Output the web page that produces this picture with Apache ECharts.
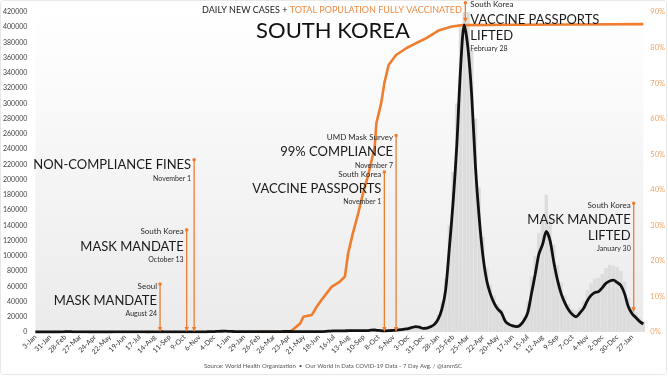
<!DOCTYPE html>
<html><head><meta charset="utf-8">
<script src="https://cdn.jsdelivr.net/npm/echarts@6/dist/echarts.min.js"></script>
<style>html,body{margin:0;padding:0;background:#fff}#c{width:668px;height:376px}</style>
</head><body><div id="c"></div>
<script>
// ---------------- DATA ----------------
const START_DATE = '2020-01-03';           // first weekly point
// 7-day average of daily new cases, one value per week
const cases2020 = [0,0,0,0,2,3,2,60,480,600,250,110,100,90,40,15,10,8,10,20,20,40,45,40,45,45,55,40,40,45,30,35,120,280,330,190,130,110,75,70,65,75,95,100,120,170,300,450,550,800,1000,1050];
const cases2021 = [850,680,520,430,420,380,390,480,390,410,440,440,450,520,620,650,660,620,560,620,590,570,620,560,530,620,800,1200,1450,1550,1500,1600,1700,1900,1700,1800,1900,1900,2400,2600,2000,1600,1500,1800,2200,2400,3000,3800,4500,6000,7000,6300,4800];
const cases2022 = [5000,7000,10000,17000,30000,55000,110000,170000,245000,345000,403000,372000,310000,217000,150000,100000,68000,50000,38000,30000,25000,14000,10000,8000,7000,9000,15000,25000,50000,75000,102000,115000,132000,120000,92000,68000,50000,38000,29000,23000,20000,25000,31000,41000,48000,52000,53000,58000,64000,67000,68000,65000,61000,50000,33000,24000,19000,14000,10500];
// daily new cases (weekly peak day), grey bars
const daily2020 = [0,0,0,0,4,5,3,190,800,700,350,150,140,120,60,25,15,12,30,30,40,60,55,50,60,60,65,60,55,60,45,55,200,440,440,270,180,130,110,100,90,100,130,140,180,250,380,580,680,1000,1100,1240];
const daily2021 = [1020,840,620,560,560,500,600,620,460,490,520,510,550,670,730,780,800,720,720,700,710,720,750,700,650,800,1300,1600,1800,1900,1800,2200,2200,2200,2000,2100,2100,2400,3200,2900,2500,2100,2000,2600,3000,3300,4100,5300,7100,7800,7800,6900,5400];
const daily2022 = [7500,9000,14000,23000,39000,70000,140000,210000,300000,400000,420000,420000,370000,280000,190000,125000,85000,62000,48000,37000,30000,18000,13000,10500,10000,12000,20000,40000,73000,100000,130000,150000,180000,150000,115000,88000,65000,48000,37000,30000,28000,33000,41000,55000,64000,70000,71000,76000,84000,88000,87000,85000,80000,66000,45000,33000,26000,19000,14000];
// total population fully vaccinated (%)
const vaxDates = ['2021-02-22','2021-04-25','2021-05-14','2021-05-20','2021-06-05','2021-06-14','2021-06-23','2021-07-12','2021-07-27','2021-08-06','2021-08-12','2021-08-21','2021-08-31','2021-09-09','2021-09-18','2021-10-01','2021-10-04','2021-10-13','2021-10-19','2021-10-27','2021-11-10','2021-11-29','2021-12-17','2022-01-05','2022-01-30','2022-02-23','2022-03-14','2022-06-22','2022-09-30','2023-02-17'];
const vaxPct = [0,0,2.4,4.3,4.8,7.1,9.0,12.7,14.1,15.6,22.1,27.8,33.4,39.0,43.7,52.1,58.7,64.3,70.0,75.1,77.9,79.8,81.2,82.6,84.9,85.9,86.3,86.4,86.5,86.6];
// annotations
const annDates = ['2020-08-24','2020-10-13','2020-10-27','2021-10-19','2021-11-10','2022-03-20','2023-01-30'];
const annTop   = [63000,134000,226000,210000,258000,432000,169000];
const annTip   = [0,0,0,0,0,406000,26000];
const annHead  = ['Seoul','South Korea','','South Korea','UMD Mask Survey','South Korea','South Korea'];
const annTitle = [['MASK MANDATE'],['MASK MANDATE'],['NON-COMPLIANCE FINES'],['VACCINE PASSPORTS'],['99% COMPLIANCE'],['VACCINE PASSPORTS','LIFTED'],['MASK MANDATE','LIFTED']];
const annSub   = ['August 24','October 13','November 1','November 1','November 7','February 28','January 30'];
const END_DATE = '2023-02-17';
const MONTHS = ['Jan','Feb','Mar','Apr','May','Jun','Jul','Aug','Sep','Oct','Nov','Dec'];

// ---------------- LAYOUT / STYLE ----------------
const annRightSide = [false,false,false,false,false,true,false];
const FONT = 'Lato, "Noto Sans", sans-serif';
const ORANGE = '#ef7d2e';
const DAY = 86400000;
const [sy,sm,sd] = START_DATE.split('-').map(Number);
const T0 = Date.UTC(sy, sm-1, sd);
function dayOf(s){ const [y,m,d] = s.split('-').map(Number); return Math.round((Date.UTC(y,m-1,d)-T0)/DAY); }
function fmtDay(v){ const dt = new Date(T0 + v*DAY); return dt.getUTCDate() + '-' + MONTHS[dt.getUTCMonth()]; }

const cases7 = cases2020.concat(cases2021, cases2022);
const daily = daily2020.concat(daily2021, daily2022);
const caseData = cases7.map((v,i)=>[i*7, v]);
const dailyData = daily.map((v,i)=>[i*7, v]);
const vaxData = vaxDates.map((d,i)=>[dayOf(d), vaxPct[i]]);
const annData = annDates.map((d,i)=>[dayOf(d), annTop[i], annTip[i]]);

const rich = {
  h: {fontSize: 8, lineHeight: 13, fill: '#2a2a2a', fontFamily: FONT},
  t: {fontSize: 13, lineHeight: 16, fill: '#1a1a1a', fontFamily: FONT},
  d: {fontSize: 7, lineHeight: 11, fill: '#2a2a2a', fontFamily: FONT}
};

function renderAnn(params, api){
  const i = params.dataIndex;
  const p1 = api.coord([api.value(0), api.value(1)]);
  const p2 = api.coord([api.value(0), api.value(2)]);
  const x = p1[0], yt = p1[1], yb = p2[1];
  const ah = 5, aw = 2.2;
  const lines = [];
  if (annHead[i]) lines.push('{h|' + annHead[i] + '}');
  annTitle[i].forEach(t => lines.push('{t|' + t + '}'));
  lines.push('{d|' + annSub[i] + '}');
  const right = annRightSide[i];
  const ty = annHead[i] ? yt - 4.5 : yt - 2.5;
  return {
    type: 'group',
    children: [
      {type:'line', shape:{x1:x, y1:yt, x2:x, y2:yb-ah+1}, style:{stroke:ORANGE, lineWidth:1.3}},
      {type:'circle', shape:{cx:x, cy:yt, r:1.8}, style:{fill:ORANGE}},
      {type:'polygon', shape:{points:[[x-aw,yb-ah],[x+aw,yb-ah],[x,yb]]}, style:{fill:ORANGE}},
      {type:'text', x: right ? x+5 : x-3, y: ty,
        style:{text: lines.join('\n'), rich: rich, align: right ? 'left' : 'right', verticalAlign:'top', fill:'#222', fontFamily: FONT}}
    ]
  };
}

const chart = echarts.init(document.getElementById('c'), null, {renderer:'canvas'});
chart.setOption({
  animation: false,
  backgroundColor: '#fff',
  textStyle: {fontFamily: FONT},
  grid: {left: 32, right: 22, top: 12, bottom: 44, show: true, borderWidth: 0,
    backgroundColor: {type:'linear', x:0, y:0, x2:0, y2:1, colorStops:[{offset:0, color:'#ffffff'},{offset:1, color:'#ebebeb'}]}},
  xAxis: {
    type: 'value', min: 0, max: dayOf(END_DATE), interval: 28,
    axisLine: {show:false}, axisTick: {show:false}, splitLine: {show:false},
    axisLabel: {rotate: 45, formatter: fmtDay, fontSize: 7, color: '#333', margin: 4, showMinLabel: true, showMaxLabel: false, fontFamily: FONT}
  },
  yAxis: [
    {type:'value', min:0, max:420000, interval:20000, axisLine:{show:false}, axisTick:{show:false}, splitLine:{show:false},
      axisLabel:{fontSize:7, color:'#444', margin:8, fontFamily: FONT, formatter: v => String(v)}},
    {type:'value', min:0, max:90, interval:10, position:'right', axisLine:{show:false}, axisTick:{show:false}, splitLine:{show:false},
      axisLabel:{formatter:'{value}%', fontSize:7.5, color:'#f5a263', margin:7, fontFamily: FONT}}
  ],
  graphic: [
    {type:'rect', silent:true, shape:{x:0.5, y:0.5, width:666, height:374, r:3}, style:{fill:'none', stroke:'#e8e8e8', lineWidth:1}},
    {type:'text', x:332, y:10, style:{text:'{a|DAILY NEW CASES + }{b|TOTAL POPULATION FULLY VACCINATED}', align:'center', verticalAlign:'middle',
      rich:{a:{fontSize:9, fill:'#222', fontFamily:FONT}, b:{fontSize:9, fill:'#f08a42', fontFamily:FONT}}}},
    {type:'text', x:333, y:31, style:{text:'SOUTH KOREA', fontSize:22, fill:'#111', fontFamily:FONT, align:'center', verticalAlign:'middle'}},
    {type:'text', x:333, y:366, style:{text:'Source: World Health Organization  \u2022  Our World in Data COVID-19 Data - 7 Day Avg. / @ianmSC', fontSize:6, fill:'#555', fontFamily:FONT, align:'center', verticalAlign:'middle'}}
  ],
  series: [
    {type:'bar', data: dailyData, barWidth: 3.4, itemStyle:{color:'#dcdcdc'}, z:1, silent:true},
    {type:'line', yAxisIndex:1, data: vaxData, symbol:'none', lineStyle:{color:ORANGE, width:2.6}, z:3, silent:true},
    {type:'line', data: caseData, smooth:0.3, symbol:'none', lineStyle:{color:'#111', width:2.8}, z:4, silent:true},
    {type:'custom', data: annData, renderItem: renderAnn, encode:{x:0, y:[1,2]}, clip:false, z:6, silent:true}
  ]
});
</script></body></html>
